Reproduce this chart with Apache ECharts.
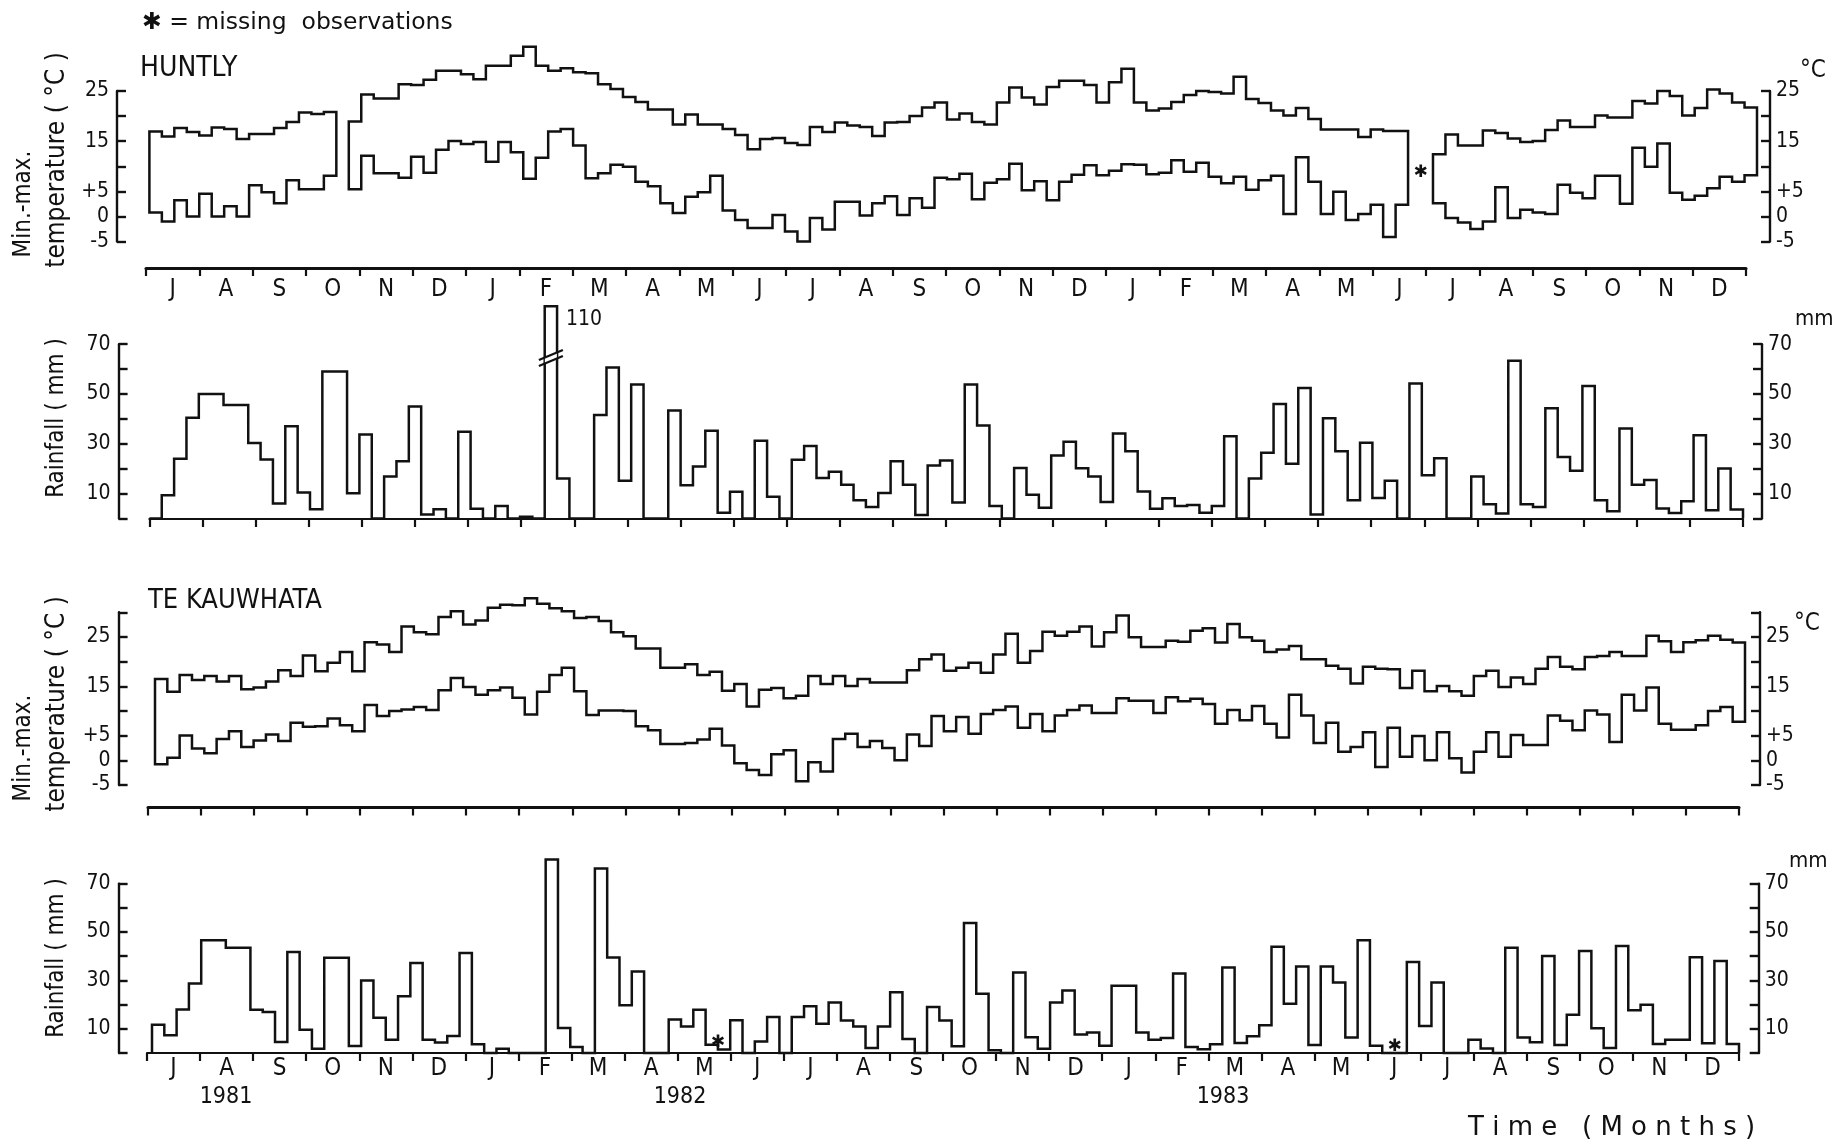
<!DOCTYPE html>
<html>
<head>
<meta charset="utf-8">
<title>Huntly and Te Kauwhata weekly climate, 1981-1983</title>
<script src="https://cdn.jsdelivr.net/npm/echarts@6/dist/echarts.min.js"></script>
<style>
  html, body { margin: 0; padding: 0; background: #fff; }
  #chart { width: 1848px; height: 1145px; }
</style>
</head>
<body>
<div id="chart"></div>
<script>
// ---- Data: weekly values, July 1981 to December 1983 ----
const months = ['J','A','S','O','N','D','J','F','M','A','M','J','J','A','S','O','N','D','J','F','M','A','M','J','J','A','S','O','N','D'];
const years = ['1981', '1982', '1983'];

const tempTickValues = [25, 15, 5, 0, -5];
const tempTickTexts = ['25', '15', '+5', '0', '-5'];
const rainTickValues = [70, 50, 30, 10];
const rainTickTexts = ['70', '50', '30', '10'];

// Huntly weekly maximum / minimum temperature (°C); null = no record
const huntlyMax = [16.9,15.9,17.6,16.8,16.1,17.7,17.4,15.4,16.4,16.4,17.6,18.8,20.7,20.4,20.8,null,18.9,24.3,23.5,23.5,
  26.3,26.2,27.2,29.0,29.0,28.3,27.3,30.0,30.0,32.0,33.8,30.0,29.0,29.5,28.7,28.5,26.3,25.4,23.8,22.8,
  21.3,21.3,18.3,20.3,18.3,18.3,17.4,16.2,13.4,15.4,15.6,14.6,14.2,17.8,16.8,18.7,18.1,17.8,16.0,18.7,
  18.8,20.0,21.7,22.7,19.3,20.5,18.8,18.3,22.7,25.7,23.7,22.3,25.8,27.0,27.0,26.2,22.7,26.7,29.4,22.7,
  21.1,21.5,22.8,24.2,25.0,24.8,24.5,27.8,23.4,22.6,21.1,20.1,21.6,19.4,17.3,17.3,17.3,15.8,17.3,17.0,
  17.0,null,null,12.4,16.3,14.1,14.1,17.1,16.6,15.5,14.8,15.0,17.2,19.1,17.8,17.8,20.1,19.7,19.7,23.0,
  22.5,25.0,24.0,20.1,21.6,25.3,24.5,22.7,21.7];
const huntlyMin = [0.8,-1.0,3.2,0.0,4.5,0.0,2.0,0.0,6.2,4.8,2.6,7.2,5.4,5.4,8.1,null,5.4,12.1,8.6,8.6,
  7.7,11.9,8.7,13.3,15.0,14.4,14.8,10.9,14.8,12.8,7.5,11.7,16.9,17.4,14.1,7.6,8.6,10.3,9.9,6.9,
  6.0,2.6,0.7,3.9,4.8,8.1,1.2,-0.7,-2.3,-2.3,0.3,-3.0,-5.0,-0.3,-2.6,2.9,2.9,0.2,2.6,4.0,
  0.3,3.6,1.7,7.7,7.4,8.5,3.4,6.7,7.4,10.5,5.2,7.0,3.2,6.9,8.3,10.2,8.2,9.1,10.4,10.3,
  8.4,8.7,11.2,8.9,10.7,7.9,6.6,7.9,5.3,7.2,8.1,0.5,11.8,6.9,0.5,4.9,-0.7,0.5,2.3,-4.1,
  2.3,null,null,2.6,-0.3,-1.2,-2.5,-1.0,5.8,-0.3,1.3,0.8,0.5,6.3,4.7,3.6,8.1,8.1,2.5,13.7,
  9.9,14.5,4.7,3.3,4.1,5.6,7.9,6.9,8.2];
// Huntly weekly rainfall (mm)
const huntlyRain = [0,9.3,24,40.5,50,50,45.6,45.6,30.3,23.7,6,37,10.4,3.7,59,59,10.1,33.7,0,16.9,
  23,45,1.6,3.7,0,34.8,3.9,0,5,0,0.7,0,110,16.1,0,0,41.6,60.6,15.2,53.8,
  0,0,43.4,13.4,20.9,35.2,2.3,10.7,0,31.2,8.7,0,23.6,29.1,16.3,18.8,13.6,7.3,4.6,10.2,
  23,13.6,1.4,21.3,23.3,6.4,53.8,37.3,5,0,20.3,9.5,4.3,25.3,30.8,20.2,16.9,6.6,34.1,27,
  10.8,3.9,8.1,5,5.4,2.3,5,33,0,16.1,26.4,46,22,52.4,1.6,40.3,27,7.3,30.4,8.2,
  15.2,0,54.2,17.4,24.2,0,0,16.9,5.7,2,63.4,5.7,4.6,44.3,24.7,19.2,53.2,7.3,2.9,36.1,
  13.6,15.5,4,2.2,6.9,33.4,3.3,20.1,3.6];

// Te Kauwhata weekly maximum / minimum temperature (°C)
const kauwhataMax = [16.6,14.0,17.4,16.4,17.2,16.1,17.2,14.5,14.9,16.1,18.4,17.2,21.4,18.2,19.9,22.1,18.2,24.1,23.6,22.1,
  27.3,26.1,25.7,29.2,30.4,27.7,28.5,31.1,31.7,31.6,33.0,31.9,31.0,30.4,29.0,29.2,28.4,26.1,25.3,22.8,
  22.8,18.9,18.9,19.6,17.4,18.1,14.2,15.6,11.0,14.4,14.8,12.7,13.2,17.2,15.6,17.2,15.2,16.6,15.9,15.9,
  15.9,18.4,20.6,21.6,18.3,18.9,19.9,17.9,21.6,25.8,19.9,22.3,26.2,25.4,26.2,27.3,23.2,26.1,29.5,25.1,
  23.1,23.1,24.4,24.2,26.4,26.9,24.0,27.8,25.1,24.4,22.1,22.6,23.3,20.6,20.6,19.3,18.7,15.7,19.1,18.7,
  18.6,14.8,18.3,14.1,15.2,14.1,13.2,17.2,18.3,15.0,16.9,15.6,18.7,21.1,19.1,18.6,21.1,21.3,22.1,21.3,
  21.3,25.4,24.3,22.1,24.1,24.5,25.4,24.6,24.0];
const kauwhataMin = [-0.7,0.6,5.1,2.5,1.5,4.4,6.0,2.8,4.1,5.3,4.0,7.7,6.9,7.0,8.6,7.2,6.0,11.3,9.1,10.1,
  10.4,10.9,10.3,14.3,16.8,15.0,13.4,14.3,14.9,12.8,9.4,14.0,17.4,18.9,14.1,9.3,10.2,10.2,10.1,7.0,
  6.2,3.4,3.4,3.6,4.3,6.5,3.1,-0.5,-1.9,-2.9,1.3,2.1,-4.2,-0.3,-2.2,4.4,5.5,2.8,4.0,2.6,
  0.1,5.3,3.0,9.1,6.0,8.9,5.5,9.5,10.3,11.0,6.7,9.5,6.0,9.2,10.3,11.2,9.7,9.7,12.7,12.2,
  12.2,9.7,12.9,12.1,12.6,11.5,7.5,10.3,8.2,11.1,7.5,4.7,13.4,9.2,3.6,7.7,1.8,2.8,5.8,-1.3,
  6.7,0.8,5.0,0.1,5.8,0.5,-2.4,1.8,5.8,0.8,5.2,3.2,3.2,9.2,8.1,6.2,10.2,9.4,3.8,13.4,
  10.2,14.9,7.5,6.3,6.3,7.2,10.1,10.9,7.9];
// Te Kauwhata weekly rainfall (mm); null = missing observation
const kauwhataRain = [11.7,7.3,18.0,28.7,46.6,46.6,43.5,43.5,17.9,16.9,4.5,41.7,9.6,1.8,39.4,39.4,2.9,30.0,14.6,5.5,
  23.4,37.2,5.5,4.3,7.0,41.3,3.6,0,1.8,0,0,0,80.0,10.3,2.5,0,76.2,39.5,19.7,33.7,
  0,0,13.8,11.0,17.9,3.4,1.4,13.5,0,4.8,14.9,0,14.9,19.3,12.1,20.9,13.4,11.0,2.1,11.0,
  25.1,5.8,0,19.0,13.4,2.8,53.7,24.5,1.1,0,33.3,6.5,1.8,20.9,25.8,7.6,8.5,3.0,27.8,27.8,
  8.5,5.5,6.2,32.8,2.5,1.5,3.6,35.3,4.1,6.9,11.5,43.9,20.4,35.7,3.3,35.7,29.1,6.4,46.6,3.0,
  null,null,37.6,11.2,29.1,0,0,5.5,1.9,0,43.5,6.4,4.4,40.1,3.3,15.8,42.1,10.2,2.1,44.2,
  17.7,19.9,3.7,5.5,5.5,39.6,4.0,38.0,3.7];

// Missing-observation markers: [week, value at which the mark sits]
const huntlyTempMissing = [[102, 8.8]];
const kauwhataRainMissing = [[46, 4.5], [101, 2.5]];

// Rainfall axis break used for the one off-scale week at Huntly
const rainBreak = [66, 91];

// ---- Styling ----
const FONT = '"DejaVu Sans Condensed", "DejaVu Sans", sans-serif';
const FONT_WIDE = '"DejaVu Sans", sans-serif';
const INK = '#111';
const LINE_W = 2.5;

const grids = [], xAxes = [], yAxes = [], series = [];

function addGrid(left, top, width, height) {
  grids.push({ left, top, width, height, show: false, containLabel: false, outerBoundsMode: 'none' });
  return grids.length - 1;
}

// Left and right bracket scales of a panel
function addBracket(box, min, max, interval, tickVals, tickTexts) {
  const g = addGrid(box[0], box[1], box[2], box[3]);
  xAxes.push({ gridIndex: g, type: 'value', show: false, min: 0, max: 1 });
  const fmt = v => { const i = tickVals.indexOf(v); return i < 0 ? '' : tickTexts[i]; };
  ['left', 'right'].forEach(pos => yAxes.push({
    gridIndex: g, type: 'value', position: pos, min, max, interval,
    axisLine: { show: true, onZero: false, lineStyle: { color: INK, width: 2.4 } },
    axisTick: { show: true, inside: true, length: 9, lineStyle: { color: INK, width: 2.4 } },
    axisLabel: { show: true, formatter: fmt, color: INK, fontFamily: FONT, fontSize: 21,
      margin: pos === 'left' ? 8 : 6, showMinLabel: true, showMaxLabel: true },
    splitLine: { show: false }
  }));
}

// Month ruler under a panel
function addRuler(box, showLabels, lineWidth, margin) {
  const g = addGrid(box[0], box[1], box[2], box[3]);
  yAxes.push({ gridIndex: g, type: 'value', show: false, min: 0, max: 1 });
  xAxes.push({
    gridIndex: g, type: 'category', data: months, position: 'bottom', boundaryGap: true,
    axisLine: { show: true, onZero: false, lineStyle: { color: INK, width: lineWidth } },
    axisTick: { show: true, interval: 0, length: 8, lineStyle: { color: INK, width: 2.2 } },
    axisLabel: { show: showLabels, interval: 0, color: INK, fontFamily: FONT, fontSize: 24, margin },
    splitLine: { show: false }
  });
}

// Plotting area with hidden week / value scales
function addDataGrid(box, n, ymin, ymax, extraY) {
  const g = addGrid(box[0], box[1], box[2], box[3]);
  xAxes.push({ gridIndex: g, type: 'value', show: false, min: 0, max: n });
  yAxes.push(Object.assign({ gridIndex: g, type: 'value', show: false, min: ymin, max: ymax }, extraY || {}));
  return { xAxisIndex: xAxes.length - 1, yAxisIndex: yAxes.length - 1 };
}

// Closed min-max envelope, one polygon per unbroken run of weeks
function addEnvelope(ax, maxArr, minArr) {
  const runs = [];
  let s = null;
  for (let i = 0; i <= maxArr.length; i++) {
    const ok = i < maxArr.length && maxArr[i] != null && minArr[i] != null;
    if (ok && s === null) s = i;
    if (!ok && s !== null) { runs.push([s, i]); s = null; }
  }
  series.push(Object.assign({
    type: 'custom', silent: true, data: runs,
    renderItem(params, api) {
      const a = api.value(0), b = api.value(1), pts = [];
      for (let i = a; i < b; i++) pts.push(api.coord([i, maxArr[i]]), api.coord([i + 1, maxArr[i]]));
      for (let i = b - 1; i >= a; i--) pts.push(api.coord([i + 1, minArr[i]]), api.coord([i, minArr[i]]));
      return { type: 'polygon', shape: { points: pts },
        style: { fill: 'none', stroke: INK, lineWidth: LINE_W, lineJoin: 'miter' } };
    }
  }, ax));
}

// Weekly rainfall as a stepped outline
function addRainOutline(ax, vals) {
  series.push(Object.assign({
    type: 'custom', silent: true, data: [[0, 0]],
    renderItem(params, api) {
      const n = vals.length, pts = [api.coord([0, 0])];
      for (let i = 0; i < n; i++) {
        const v = vals[i] == null ? 0 : vals[i];
        pts.push(api.coord([i, v]), api.coord([i + 1, v]));
      }
      pts.push(api.coord([n, 0]));
      return { type: 'polyline', shape: { points: pts },
        style: { fill: null, stroke: INK, lineWidth: LINE_W, lineJoin: 'miter' } };
    }
  }, ax));
}

function addMissingMarks(ax, marks) {
  series.push(Object.assign({
    type: 'custom', silent: true, data: marks,
    renderItem(params, api) {
      const p = api.coord([api.value(0), api.value(1)]);
      return { type: 'text', x: p[0], y: p[1],
        style: { text: '\u2731', fill: INK, fontSize: 17, fontFamily: FONT_WIDE,
          align: 'center', verticalAlign: 'middle' } };
    }
  }, ax));
}

// Break symbol and value label on the off-scale week
function addBreakNote(ax, vals) {
  let peak = 0;
  vals.forEach((v, i) => { if (v != null && v > vals[peak]) peak = i; });
  series.push(Object.assign({
    type: 'custom', silent: true, data: [[peak, vals[peak]]],
    renderItem(params, api) {
      const i = api.value(0), v = api.value(1);
      const c = api.coord([i + 0.5, rainBreak[0] - 1.5]);
      const t = api.coord([i + 1, v]);
      const seg = (dy) => ({ type: 'line',
        shape: { x1: c[0] - 12, y1: c[1] + 5 + dy, x2: c[0] + 12, y2: c[1] - 5 + dy },
        style: { stroke: INK, lineWidth: 2.2 } });
      return { type: 'group', children: [
        { type: 'polygon', shape: { points: [[c[0] - 6, c[1] + 2.5 - 3], [c[0] + 6, c[1] - 2.5 - 3], [c[0] + 6, c[1] - 2.5 + 3], [c[0] - 6, c[1] + 2.5 + 3]] },
          style: { fill: '#fff' } },
        seg(-3), seg(3),
        { type: 'text', x: t[0] + 9, y: t[1] + 3,
          style: { text: String(v), fill: INK, fontSize: 21, fontFamily: FONT, align: 'left', verticalAlign: 'top' } }
      ] };
    }
  }, ax));
}

// ---- Huntly temperature ----
addBracket([117, 91, 1653, 150.5], -5, 25, 5, tempTickValues, tempTickTexts);
const axHT = addDataGrid([149.4, 40.7, 1607.6, 225.9], huntlyMax.length, -10, 35);
addEnvelope(axHT, huntlyMax, huntlyMin);
addMissingMarks(axHT, huntlyTempMissing);
addRuler([146, 258, 1600, 10], true, 3, 10);

// ---- Huntly rainfall ----
addBracket([118.6, 344.2, 1643.4, 174.3], 0, 70, 10, rainTickValues, rainTickTexts);
const axHR = addDataGrid([149.4, 293.9, 1593.6, 224.6], huntlyRain.length, 0, 115, {
  breaks: [{ start: rainBreak[0], end: rainBreak[1], gap: 0.2 }],
  breakArea: { show: false }
});
addRainOutline(axHR, huntlyRain);
addBreakNote(axHR, huntlyRain);
addRuler([149.4, 509, 1593.6, 10], false, 2.2, 8);

// ---- Te Kauwhata temperature ----
addBracket([118.6, 612.3, 1641.4, 172.7], -5, 30, 5, tempTickValues, tempTickTexts);
const axKT = addDataGrid([155, 588.5, 1590, 221.4], kauwhataMax.length, -10, 35);
addEnvelope(axKT, kauwhataMax, kauwhataMin);
addRuler([148, 797.5, 1591, 10], false, 3, 8);

// ---- Te Kauwhata rainfall ----
addBracket([118.6, 883.6, 1640.1, 169.4], 0, 70, 10, rainTickValues, rainTickTexts);
const axKR = addDataGrid([152, 847.3, 1587, 205.7], kauwhataRain.length, 0, 85);
addRainOutline(axKR, kauwhataRain);
addMissingMarks(axKR, kauwhataRainMissing);
addRuler([147, 1043, 1592, 10], true, 2.2, 4);

// ---- Titles and annotations ----
function txt(text, x, y, size, opts) {
  const o = opts || {};
  return {
    type: 'text', x, y, rotation: o.rotation || 0, silent: true,
    style: { text, fill: INK, fontSize: size, fontFamily: o.font || FONT,
      align: o.align || 'left', textAlign: o.align || 'left',
      verticalAlign: 'middle', textVerticalAlign: 'middle' }
  };
}
const UP = { rotation: Math.PI / 2, align: 'center' };
const texts = [
  txt('\u2731 = missing  observations', 142, 23, 23.5, { font: FONT_WIDE }),
  txt('HUNTLY', 140, 69, 28),
  txt('TE KAUWHATA', 148, 601, 27),
  txt('Min.-max.', 24, 204, 24, UP),
  txt('temperature ( \u00B0C )', 57, 160, 26, UP),
  txt('Rainfall ( mm )', 57, 418, 24, UP),
  txt('Min.-max.', 24, 748, 24, UP),
  txt('temperature ( \u00B0C )', 57, 704, 26, UP),
  txt('Rainfall ( mm )', 57, 958, 24, UP),
  txt('\u00B0C', 1800, 71, 24),
  txt('\u00B0C', 1794, 624, 24),
  txt('mm', 1795, 319, 22),
  txt('mm', 1789, 861, 22),
  txt(years[0], 226, 1097, 23, { align: 'center' }),
  txt(years[1], 680, 1097, 23, { align: 'center' }),
  txt(years[2], 1223, 1097, 23, { align: 'center' }),
  txt('T i m e   ( M o n t h s )', 1468, 1128, 26, { font: FONT_WIDE })
];

const chart = echarts.init(document.getElementById('chart'), null, { renderer: 'canvas' });
chart.setOption({
  animation: false,
  backgroundColor: '#fff',
  grid: grids,
  xAxis: xAxes,
  yAxis: yAxes,
  series,
  graphic: { elements: texts }
});
</script>
</body>
</html>
